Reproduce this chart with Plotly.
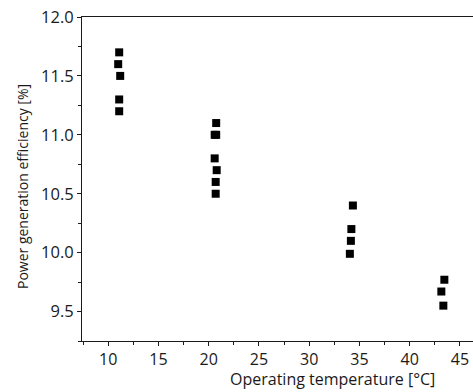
import plotly.graph_objects as go

# Data
temp_c = [11.1, 11.0, 11.2, 11.1, 11.1,
          20.75, 20.6, 20.75, 20.6, 20.8, 20.7, 20.7,
          34.35, 34.2, 34.15, 34.05,
          43.45, 43.15, 43.35]
efficiency = [11.70, 11.60, 11.50, 11.30, 11.20,
              11.10, 11.00, 11.00, 10.80, 10.70, 10.60, 10.50,
              10.40, 10.20, 10.10, 9.99,
              9.77, 9.67, 9.55]

x_title = "Operating temperature [°C]"
y_title = "Power generation efficiency [%]"

FONT = "Open Sans"
INK = "#1a1a1a"

fig = go.Figure()
fig.add_trace(go.Scatter(
    x=temp_c, y=efficiency, mode="markers",
    marker=dict(symbol="square", size=8, color="black", line=dict(width=0)),
    showlegend=False,
))

fig.update_layout(
    width=473, height=392,
    margin=dict(l=82, r=0, t=17, b=51),
    paper_bgcolor="white", plot_bgcolor="white",
    font=dict(family=FONT, size=14, color=INK),
    xaxis=dict(
        range=[7.4, 46.3], tickvals=[10, 15, 20, 25, 30, 35, 40, 45],
        ticks="outside", ticklen=4, tickwidth=1, tickcolor=INK,
        minor=dict(dtick=2.5, tick0=0, ticks="outside", ticklen=3, tickwidth=1, tickcolor=INK),
        showline=True, linecolor=INK, linewidth=1, mirror=True,
        showgrid=False, zeroline=False, ticklabelstandoff=0,
        tickfont=dict(family=FONT, size=16),
    ),
    yaxis=dict(
        range=[9.25, 12.0], tickvals=[9.5, 10.0, 10.5, 11.0, 11.5, 12.0],
        tickformat=".1f",
        ticks="outside", ticklen=4, tickwidth=1, tickcolor=INK,
        minor=dict(dtick=0.25, tick0=0, ticks="outside", ticklen=3, tickwidth=1, tickcolor=INK),
        showline=True, linecolor=INK, linewidth=1,
        showgrid=False, zeroline=False,
        tickfont=dict(family=FONT, size=16.5),
    ),
    annotations=[
        dict(text=x_title, xref="paper", yref="paper", x=(437 - 82) / 391, y=-(392 - 341) / 324,
             xanchor="right", yanchor="bottom", showarrow=False,
             font=dict(family=FONT, size=16, color=INK)),
        dict(text=y_title, xref="paper", yref="paper", x=-(82 - 22) / 391, y=(341 - 187) / 324,
             xanchor="center", yanchor="middle", textangle=-90, showarrow=False,
             font=dict(family=FONT, size=14, color=INK)),
    ],
)

fig.write_html("out.html", config={"displayModeBar": False},
               post_script="document.body.style.margin='0';document.body.style.overflow='hidden';")
